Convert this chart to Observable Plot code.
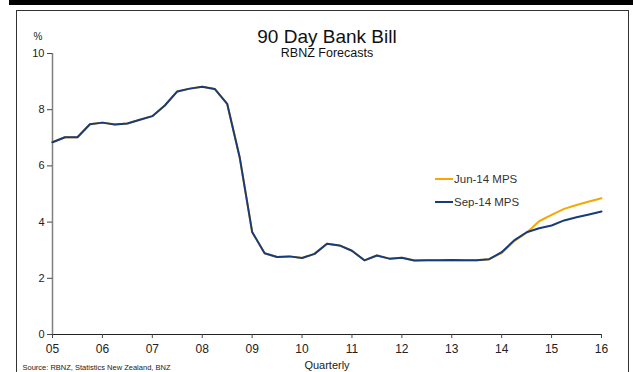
<!DOCTYPE html>
<html>
<head>
<meta charset="utf-8">
<script src="https://cdn.jsdelivr.net/npm/d3@7"></script>
<script src="https://cdn.jsdelivr.net/npm/@observablehq/plot@0.6"></script>
<style>
  html, body { margin: 0; padding: 0; background: #fff; }
  #wrap { position: relative; width: 633px; height: 372px; overflow: hidden; font-family: "Liberation Sans", Arial, sans-serif; }
  #bar { position: absolute; left: 9px; top: 0; width: 624px; height: 5px; background: #000; }
  #box { position: absolute; left: 16px; top: 10px; width: 613px; height: 380px; border: 1.5px solid #333; box-sizing: border-box; }
  #chart { position: absolute; left: 0; top: 0; }
  .leg { position: absolute; font-size: 11.5px; color: #333; display: flex; align-items: center; }
  .leg span.sw { display: inline-block; width: 18px; height: 2px; margin-right: 1px; }
</style>
</head>
<body>
<div id="wrap">
  <div id="bar"></div>
  <div id="box"></div>
  <div id="chart"></div>
</div>
<script>
// Quarterly dates (decimal years)
const quarters = [
  2005.00, 2005.25, 2005.50, 2005.75, 2006.00, 2006.25, 2006.50, 2006.75,
  2007.00, 2007.25, 2007.50, 2007.75, 2008.00, 2008.25, 2008.50, 2008.75,
  2009.00, 2009.25, 2009.50, 2009.75, 2010.00, 2010.25, 2010.50, 2010.75,
  2011.00, 2011.25, 2011.50, 2011.75, 2012.00, 2012.25, 2012.50, 2012.75,
  2013.00, 2013.25, 2013.50, 2013.75, 2014.00, 2014.25, 2014.50, 2014.75,
  2015.00, 2015.25, 2015.50, 2015.75, 2016.00
];
// Sep-14 MPS (history + forecast)
const sep14 = [
  6.84, 7.02, 7.02, 7.48, 7.54, 7.47, 7.51, 7.64,
  7.77, 8.15, 8.65, 8.75, 8.82, 8.74, 8.21, 6.31,
  3.65, 2.89, 2.76, 2.78, 2.72, 2.87, 3.23, 3.17,
  2.98, 2.64, 2.81, 2.70, 2.73, 2.63, 2.64, 2.64,
  2.65, 2.64, 2.64, 2.68, 2.93, 3.35, 3.64, 3.78,
  3.88, 4.06, 4.17, 4.27, 4.38
];
// Jun-14 MPS (history + forecast)
const jun14 = [
  6.84, 7.02, 7.02, 7.48, 7.54, 7.47, 7.51, 7.64,
  7.77, 8.15, 8.65, 8.75, 8.82, 8.74, 8.21, 6.31,
  3.65, 2.89, 2.76, 2.78, 2.72, 2.87, 3.23, 3.17,
  2.98, 2.64, 2.81, 2.70, 2.73, 2.63, 2.64, 2.64,
  2.65, 2.64, 2.64, 2.68, 2.90, 3.32, 3.62, 4.03,
  4.26, 4.47, 4.61, 4.73, 4.85
];
const yTicks = [0, 2, 4, 6, 8, 10];
const xTicks = [2005, 2006, 2007, 2008, 2009, 2010, 2011, 2012, 2013, 2014, 2015, 2016];
const seriesNames = ["Jun-14 MPS", "Sep-14 MPS"];
const seriesColors = ["#f5a800", "#173b7c"];

const junData = quarters.map((q, i) => ({q, v: jun14[i]}));
const sepData = quarters.map((q, i) => ({q, v: sep14[i]}));

const plot = Plot.plot({
  width: 633,
  height: 372,
  marginLeft: 52,
  marginRight: 32,
  marginTop: 53,
  marginBottom: 38,
  style: {fontFamily: "Liberation Sans, Arial, sans-serif", background: "transparent", color: "#222"},
  x: {domain: [2005, 2016]},
  y: {domain: [0, 10]},
  marks: [
    Plot.ruleX([2005], {stroke: "#808080", strokeWidth: 1.5}),
    Plot.ruleY([0], {stroke: "#222", strokeWidth: 1.2}),
    Plot.axisY({ticks: yTicks, tickSize: 5, tickPadding: 3, label: null, fontSize: 11, stroke: "#444"}),
    Plot.axisX({ticks: xTicks, tickSize: 4, tickPadding: 6, label: null, fontSize: 12,
      tickFormat: d => String(d % 100).padStart(2, "0"), stroke: "#444"}),
    Plot.line(junData, {x: "q", y: "v", stroke: seriesColors[0], strokeWidth: 2}),
    Plot.line(sepData, {x: "q", y: "v", stroke: seriesColors[1], strokeWidth: 2}),
    Plot.text(["90 Day Bank Bill"], {frameAnchor: "top", dy: -24, fontSize: 19, fill: "#111"}),
    Plot.text(["RBNZ Forecasts"], {frameAnchor: "top", dy: -5, fontSize: 12.5, fill: "#111"}),
    Plot.text(["%"], {frameAnchor: "top-left", dx: -19, dy: -21, fontSize: 10, fill: "#222"}),
    Plot.text(["Quarterly"], {frameAnchor: "bottom", dy: 34, fontSize: 11, fill: "#222"}),
    Plot.text(["Source: RBNZ, Statistics New Zealand, BNZ"], {frameAnchor: "bottom-left", dx: -30, dy: 35, fontSize: 7.5, textAnchor: "start", fill: "#222"})
  ]
});
document.getElementById("chart").appendChild(plot);

// Legend
const wrap = document.getElementById("wrap");
seriesNames.forEach((name, i) => {
  const d = document.createElement("div");
  d.className = "leg";
  d.style.left = "435px";
  d.style.top = (173 + i * 23) + "px";
  d.innerHTML = `<span class="sw" style="background:${seriesColors[i]}"></span>${name}`;
  wrap.appendChild(d);
});
</script>
</body>
</html>
